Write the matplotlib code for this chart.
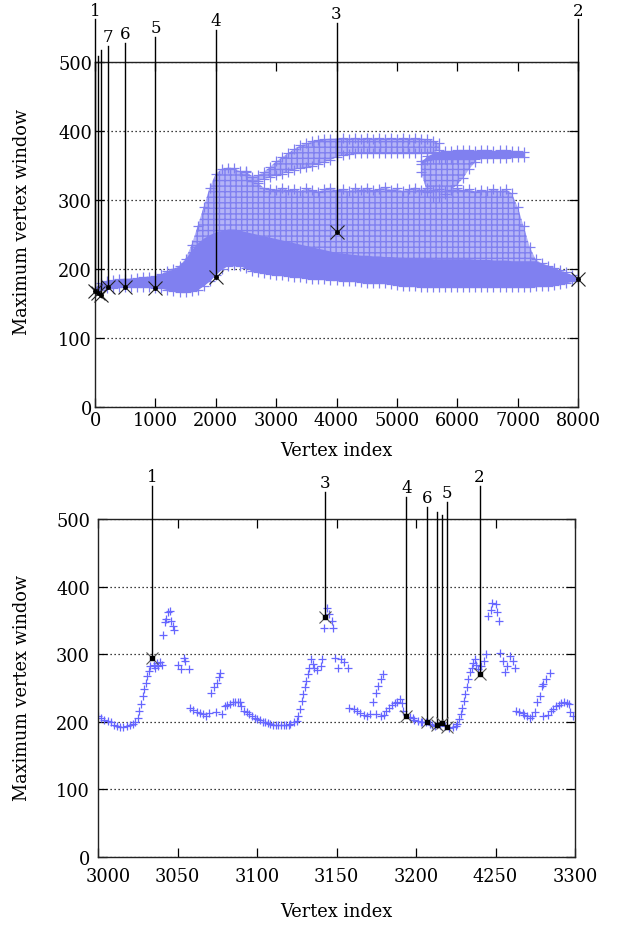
import numpy as np
import matplotlib
matplotlib.use("Agg")
import matplotlib.pyplot as plt
from matplotlib.transforms import ScaledTranslation

plt.rcParams["font.family"] = ["DejaVu Serif"]

# ── Full mesh (top): envelopes of the point cloud, read every 100 vertices ────
cloud_x = list(range(0, 8001, 100))
cloud_low = [168, 170, 172, 173, 174, 174, 174, 174, 174, 174,
             173, 172, 170, 168, 167, 167, 168, 170, 176, 183,
             192, 200, 205, 206, 205, 201, 197, 195, 194, 193,
             192, 191, 190, 189, 188, 187, 186, 185, 185, 184,
             184, 183, 183, 182, 181, 180, 180, 179, 179, 178,
             177, 176, 175, 175, 174, 174, 174, 174, 174, 174,
             174, 174, 174, 174, 174, 174, 174, 174, 174, 174,
             174, 174, 174, 175, 175, 176, 177, 178, 180, 182, 185]
cloud_high = [172, 180, 183, 184, 185, 186, 186, 187, 188, 189,
              190, 193, 197, 200, 205, 215, 235, 262, 290, 318,
              338, 345, 347, 346, 342, 340, 328, 325, 317, 316,
              315, 318, 314, 316, 313, 317, 315, 312, 316, 318,
              314, 316, 313, 317, 315, 318, 314, 316, 319, 315,
              317, 313, 316, 318, 315, 317, 314, 316, 313, 315,
              317, 314, 316, 312, 315, 313, 316, 313, 316, 310,
              290, 262, 232, 214, 208, 205, 202, 198, 195, 191, 187]
cloud_dense = [172, 180, 183, 184, 185, 186, 186, 187, 188, 189,
               190, 193, 197, 200, 205, 215, 228, 238, 245, 250,
               254, 256, 258, 258, 256, 254, 252, 250, 248, 246,
               244, 242, 240, 238, 236, 234, 232, 230, 228, 226,
               224, 223, 222, 221, 220, 220, 219, 219, 218, 218,
               217, 217, 216, 216, 216, 216, 215, 215, 215, 215,
               215, 215, 215, 214, 214, 214, 213, 213, 213, 212,
               212, 212, 212, 212, 208, 205, 202, 198, 195, 191, 187]

upper_x = list(range(2500, 5701, 100))
upper_low = [336, 328, 328, 330, 333, 336, 338, 341, 344, 346, 348,
             350, 352, 355, 358, 362, 365, 367, 368, 368, 368, 368,
             368, 368, 368, 368, 368, 368, 368, 368, 368, 369, 372]
upper_high = [342, 334, 336, 341, 348, 356, 362, 368, 374, 379, 382,
              385, 387, 388, 389, 389, 390, 389, 390, 389, 390, 389,
              390, 389, 390, 389, 390, 389, 390, 389, 388, 386, 382]

right_x = list(range(5400, 7101, 100))
right_low = [352, 358, 359, 360, 360, 360, 360, 360, 360, 360,
             361, 361, 361, 361, 361, 362, 362, 363]
right_high = [356, 364, 368, 370, 371, 371, 372, 372, 372, 371,
              372, 372, 371, 372, 372, 371, 371, 370]

column_x = list(range(5400, 6301, 100))
column_low = [340, 312, 305, 305, 308, 315, 322, 332, 345, 355]

# marked vertices in the full mesh
full_mark_x = [0, 45, 95, 215, 500, 1000, 2000, 4000, 8000]
full_mark_y = [168, 165, 163, 174, 174, 173, 188, 253, 185]
full_mark_lab = ["1", "", "", "7", "6", "5", "4", "3", "2"]

full_xticks = [0, 1000, 2000, 3000, 4000, 5000, 6000, 7000, 8000]
yticks = [0, 100, 200, 300, 400, 500]

# ── Close-up (bottom): vertices 3000-3300 ─────────────────────────────────────
zoom_x = [3000, 3002, 3004, 3006, 3008, 3010, 3012, 3014, 3016, 3018,
          3020, 3022, 3023, 3025, 3026, 3027, 3028, 3029, 3030, 3031,
          3032, 3033, 3035, 3036, 3037, 3038, 3039, 3040, 3041, 3042,
          3043, 3044, 3045, 3046, 3047, 3048, 3050, 3052, 3054, 3055, 3057,
          3058, 3060, 3062, 3064, 3066, 3068, 3070, 3071, 3073, 3075,
          3076, 3077, 3074, 3078, 3080, 3081, 3083, 3085, 3086, 3088,
          3089, 3090, 3092, 3094, 3095, 3097, 3099, 3100, 3102, 3104,
          3105, 3107, 3108, 3110, 3112, 3113, 3115, 3117, 3118, 3120,
          3121, 3123, 3125, 3126, 3127, 3128, 3129, 3130, 3131, 3132,
          3133, 3134, 3135, 3136, 3138, 3140, 3141, 3142, 3144, 3145,
          3147, 3148, 3149, 3151, 3153, 3155, 3157,
          3158, 3161, 3163, 3165, 3167, 3169, 3171, 3173, 3175, 3176,
          3178, 3179, 3175, 3178, 3180, 3181, 3183, 3185, 3187, 3188,
          3190, 3191, 3192, 3196, 3198, 3199, 3201, 3203, 3204, 3206,
          3209, 3210, 3212, 3215, 3218, 3221, 3223, 3225, 3226, 3227,
          3228, 3229, 3230, 3231, 3232, 3233, 3234, 3235, 3236, 3237,
          3238, 3239, 3241, 3243, 3244, 3245, 3247, 3248, 3250, 3251,
          3252, 3253, 3255, 3256, 3257, 3259, 3261, 3262,
          3263, 3265, 3267, 3268, 3270, 3272, 3273, 3275, 3276, 3278,
          3279, 3280, 3282, 3284, 3280, 3283, 3285, 3286, 3288, 3290,
          3291, 3293, 3295, 3296, 3297, 3299]
zoom_y = [209, 206, 203, 201, 199, 196, 194, 193, 193, 194,
          195, 197, 199, 206, 216, 226, 238, 248, 258, 268,
          275, 283, 284, 280, 287, 282, 288, 284, 328, 347,
          352, 362, 364, 349, 342, 336, 284, 278, 295, 290, 278,
          220, 218, 215, 213, 211, 209, 213, 243, 251, 258,
          266, 272, 214, 211, 224, 225, 226, 229, 230, 230,
          229, 224, 216, 214, 211, 209, 206, 204, 202, 200,
          199, 198, 197, 196, 195, 195, 195, 195, 195, 196,
          197, 199, 201, 209, 219, 231, 241, 251, 261, 270,
          280, 293, 285, 280, 277, 283, 293, 339, 369, 359,
          349, 339, 295, 280, 293, 288, 279,
          221, 219, 216, 213, 210, 209, 211, 229, 243, 253,
          263, 270, 211, 209, 210, 216, 221, 225, 228, 230,
          233, 228, 216, 207, 205, 203, 201, 200, 199, 199,
          197, 195, 194, 195, 194, 191, 192, 194, 197, 204,
          211, 220, 231, 241, 251, 263, 273, 280, 287, 293,
          284, 278, 283, 290, 300, 357, 366, 376, 374, 362,
          349, 302, 290, 273, 283, 297, 290, 280,
          216, 215, 213, 210, 208, 206, 209, 214, 229, 238,
          253, 256, 263, 272, 209, 210, 216, 219, 224, 225,
          228, 229, 228, 226, 214, 209]

zoom_mark_x = [3034, 3143, 3194, 3207, 3213, 3216.5, 3219.5, 3240]
zoom_mark_y = [294, 355, 209, 200, 196, 198, 193, 270]
zoom_mark_lab = ["1", "3", "4", "6", "", "", "5", "2"]

zoom_xticks = [3000, 3050, 3100, 3150, 3200, 3250, 3300]
zoom_xticklabels = ["3000", "3050", "3100", "3150", "3200", "4250", "3300"]

# ── Layout / style ────────────────────────────────────────────────────────────
full_line_top = [562, 508, 517, 523, 528, 536, 547, 557, 562]
zoom_line_top = [549, 540, 533, 518, 510, 506, 525, 549]

CLOUD = "#8080f0"
CLOUD_LIGHT = "#b4b4f7"
PLUS = "#6666ff"
FS = 12.8

plt.rcParams["hatch.linewidth"] = 1.0
plt.rcParams["hatch.color"] = CLOUD


def style(ax, xpad, ypad):
    ax.set_ylim(0, 500)
    ax.set_yticks(yticks)
    ax.yaxis.grid(True, linestyle=(0, (1, 2.2)), color="black", lw=0.9)
    ax.set_axisbelow(True)
    ax.tick_params(direction="in", length=6.5, width=0.9, top=True,
                   right=True, labelsize=FS)
    ax.tick_params(axis="x", pad=xpad)
    ax.tick_params(axis="y", pad=ypad)
    for s in ax.spines.values():
        s.set_linewidth(1.0)
        s.set_color("#222222")


def annotate(ax, xs, ys, labs, tops, xsize, msize, xcolor, dot):
    for x, y, lab, top in zip(xs, ys, labs, tops):
        ax.plot([x, x], [y, top], color="black", lw=1.0, clip_on=False,
                zorder=5)
        if lab:
            ax.text(x, top + 1, lab, ha="center", va="bottom", fontsize=12,
                    clip_on=False)
    ax.plot(xs, ys, "x", color=xcolor, ms=xsize, mew=0.8, zorder=6,
            clip_on=False)
    ax.plot(xs, ys, dot, color="black", ms=msize, zorder=7, clip_on=False)


def hatched(ax, xs, lo, hi, **kw):
    ax.fill_between(xs, lo, hi, facecolor=CLOUD_LIGHT, edgecolor=CLOUD,
                    hatch="+++", lw=0, zorder=1, **kw)


fig = plt.figure(figsize=(6.21, 9.29), dpi=100)

# ── Top panel ────────────────────────────────────────────────────────────────
ax1 = fig.add_axes([95 / 621, 1 - 408 / 929, 483 / 621, 345 / 929])
style(ax1, 3, 2.2)
ax1.set_xlim(0, 8000)
ax1.set_xticks(full_xticks)

hatched(ax1, cloud_x, cloud_low, cloud_high)
ax1.fill_between(cloud_x, cloud_low, cloud_dense, color=CLOUD, lw=0, zorder=1)
hatched(ax1, upper_x, upper_low, upper_high)
hatched(ax1, column_x, column_low, right_low[:len(column_x)])
ax1.fill_between(right_x, right_low, right_high, color=CLOUD, lw=0, zorder=1)
for xs, ys in [(cloud_x, cloud_low), (cloud_x, cloud_high),
               (upper_x, upper_low), (upper_x, upper_high),
               (right_x, right_low), (right_x, right_high),
               (column_x, column_low)]:
    ax1.plot(xs, ys, "+", color=CLOUD, ms=6.5, mew=0.9, zorder=2)

annotate(ax1, full_mark_x, full_mark_y, full_mark_lab, full_line_top,
         10, 2.5, "#222222", "o")

ax1.text(0.5, -0.125, "Vertex index", transform=ax1.transAxes, ha="center",
         va="center", fontsize=FS)
ax1.text(-0.151, 0.54, "Maximum vertex window", transform=ax1.transAxes,
         rotation=90, ha="center", va="center", fontsize=FS)

# ── Bottom panel ─────────────────────────────────────────────────────────────
ax2 = fig.add_axes([98 / 621, 1 - 858 / 929, 477 / 621, 338 / 929])
style(ax2, 7, 5.8)
ax2.set_xlim(3000, 3300)
ax2.set_xticks(zoom_xticks)
ax2.set_xticklabels(zoom_xticklabels)
first = ax2.get_xticklabels()[0]
first.set_transform(first.get_transform()
                    + ScaledTranslation(0.10, 0, fig.dpi_scale_trans))

ax2.plot(zoom_x, zoom_y, "+", color=PLUS, ms=5.5, mew=0.9, zorder=2)
annotate(ax2, zoom_mark_x, zoom_mark_y, zoom_mark_lab, zoom_line_top,
         8, 3, "#555555", "s")

ax2.text(0.5, -0.16, "Vertex index", transform=ax2.transAxes, ha="center",
         va="center", fontsize=FS)
ax2.text(-0.159, 0.503, "Maximum vertex window", transform=ax2.transAxes,
         rotation=90, ha="center", va="center", fontsize=FS)

fig.savefig("out.png", dpi=100)
